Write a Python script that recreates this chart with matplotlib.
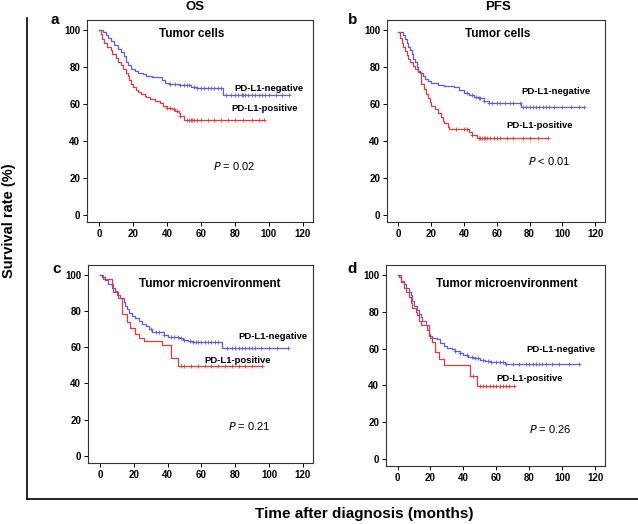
import numpy as np
import matplotlib
matplotlib.use("Agg")
import matplotlib.pyplot as plt
from matplotlib.lines import Line2D

plt.rcParams["font.family"] = ["Liberation Sans", "DejaVu Sans"]

# ---- data (months, survival %) ----
# panel a: OS, tumor cells
a_neg_t = [0, 2.5, 4, 5.5, 7, 9, 11, 13, 15, 16, 17, 19, 21, 23, 26, 28, 31, 37, 39, 41, 47, 54, 58, 73]
a_neg_s = [100, 99, 97.5, 96, 94, 92, 90, 88, 86, 83, 81, 79, 78, 77, 76, 75, 74.5, 73, 71.5, 71, 70, 69.2, 68.5, 65]
a_neg_end = 112
a_neg_cens = [42, 45, 48, 50, 52, 53, 56, 58, 60, 62, 64, 66, 68, 70, 72, 75, 78, 80, 82, 84, 85, 86,
              88, 90, 92, 94, 96, 98, 100, 104, 108, 112]
a_pos_t = [0, 1, 2, 3, 5, 7, 8, 10, 11, 13, 14, 16, 17, 18, 19, 20, 22, 23, 25, 27, 28, 30, 33, 36,
           38, 40, 43, 45, 47, 48, 50]
a_pos_s = [100, 98, 95, 93, 91, 89, 87, 85, 83, 81, 79, 77, 75, 73, 71, 69, 67.5, 66.5, 65.5, 64.5, 63.5, 62.5,
           61.5, 60.5, 59, 58, 57, 56, 55, 53.5, 51.5]
a_pos_end = 97
a_pos_cens = [40, 42, 44, 46, 48, 52, 53, 54, 55, 56, 58, 60, 64, 68, 72, 76, 80, 85, 90, 94, 97]

# panel b: PFS, tumor cells
b_neg_t = [0, 3, 4, 5, 6, 7, 8, 9, 10, 11, 12, 13, 15, 16, 18, 20, 24, 28, 34, 37, 40, 43, 46, 49,
           52, 55, 75]
b_neg_s = [98.9, 97.5, 95, 93, 91, 89, 87, 84.5, 82.5, 80, 78, 77, 75, 73.5, 72.5, 71.5, 70.5, 69.7,
           69, 67.5, 65.8, 64.8, 64, 63, 61.8, 60.3, 58.5]
b_neg_end = 113
b_neg_cens = [42, 45, 47, 49, 50, 52, 55, 57, 60, 62, 65, 68, 70, 74, 76, 78, 80, 82, 84, 86, 88, 90,
              92, 95, 100, 105, 110, 113]
b_pos_t = [0, 1, 2, 3, 4, 5, 6, 7, 9, 10, 12, 13.5, 14, 15.5, 17, 18, 19, 20, 22, 24, 26, 27, 28, 30,
           31, 43, 45, 48]
b_pos_s = [98.9, 96, 93, 91, 88.5, 86.5, 84.5, 82.5, 80.5, 79, 77.5, 74, 71, 68, 65.5, 63, 61, 59, 57,
           55, 53, 51, 49.5, 47.5, 46.5, 45, 43, 41.5]
b_pos_end = 91
b_pos_cens = [35, 40, 42, 45, 49, 50, 51, 52, 53, 54, 56, 58, 60, 62, 66, 70, 76, 80, 85, 91]

# panel c: OS, tumor microenvironment
c_neg_t = [0, 1, 3, 5, 7, 9, 10, 12, 14, 15, 16, 17, 19, 21, 23, 25, 27, 29, 31, 38, 40, 47, 49, 52,
           55, 72]
c_neg_s = [100, 99, 97, 95, 93, 91, 89, 87, 85, 83, 81, 79, 77.5, 76, 74.5, 73, 71.5, 70, 68.5, 67,
           65.5, 65, 64, 63.5, 62.8, 59.5]
c_neg_end = 111
c_neg_cens = [30, 33, 35, 38, 42, 44, 46, 48, 50, 53, 55, 57, 58, 60, 62, 64, 66, 68, 70, 75, 78, 80,
              82, 84, 86, 88, 90, 92, 95, 100, 105, 111]
c_pos_t = [0, 2, 7, 8, 11, 13, 16, 18, 21, 23, 26, 37, 42, 46]
c_pos_s = [100, 97.5, 95, 90.5, 87.5, 78.5, 74, 70.5, 67.5, 65, 63.5, 61, 54, 49.5]
c_pos_end = 96
c_pos_cens = [48, 50, 54, 58, 62, 66, 70, 74, 78, 82, 86, 90, 96]

# panel d: PFS, tumor microenvironment
d_neg_t = [0, 1, 2, 4, 5, 7, 8, 9, 10, 12, 13, 14, 15, 17, 18, 19, 20, 24, 26, 28, 30, 33, 35, 38,
           40, 43, 46, 50, 53, 57, 65]
d_neg_s = [100, 99, 97, 95, 93, 91, 89, 86, 83, 81, 79, 77, 75, 73, 70, 68, 66, 65, 63, 61.5, 60.5,
           59.5, 58.5, 57.5, 56.5, 55.5, 55, 54, 53, 52.8, 51.4]
d_neg_end = 110
d_neg_cens = [35, 38, 42, 45, 47, 49, 52, 55, 57, 60, 62, 64, 66, 70, 74, 78, 80, 82, 84, 86, 88, 90,
              94, 98, 104, 110]
d_pos_t = [0, 2, 4, 5, 7, 8, 9, 11, 12, 13, 14, 19, 21, 23, 25, 28, 44, 48]
d_pos_s = [100, 96, 93, 91, 88, 85, 82, 80, 78, 75, 73, 67, 63.5, 58, 54.5, 51, 45, 39.5]
d_pos_end = 71
d_pos_cens = [46, 50, 52, 54, 56, 58, 60, 62, 64, 66, 68, 71]

col_titles = ["OS", "PFS"]
panel_letters = ["a", "b", "c", "d"]
panel_titles = ["Tumor cells", "Tumor cells", "Tumor microenvironment", "Tumor microenvironment"]
p_texts = ["$P$ = 0.02", "$P$ < 0.01", "$P$ = 0.21", "$P$ = 0.26"]
xticks = [0, 20, 40, 60, 80, 100, 120]
yticks = [0, 20, 40, 60, 80, 100]

BLUE = "#5a5af0"
RED = "#e23a3a"

W, H = 638, 524
fig = plt.figure(figsize=(W / 100, H / 100), dpi=100)


def box(l, t, r, b):
    return [l / W, 1 - b / H, (r - l) / W, (b - t) / H]


axes_px = [(87, 20, 313, 222), (387, 20, 605, 222), (88, 265, 313, 463), (386, 265, 605, 466)]


def km(ax, t, s, end, cens, color):
    tt = list(t) + [end]
    ss = list(s) + [s[-1]]
    ax.step(tt, ss, where="post", color=color, lw=0.9)
    idx = np.searchsorted(t, cens, side="right") - 1
    cy = np.array(s)[idx]
    ax.plot(cens, cy, ls="none", marker="+", ms=2.5, mew=0.6, color=color)


curves = [
    (a_neg_t, a_neg_s, a_neg_end, a_neg_cens, a_pos_t, a_pos_s, a_pos_end, a_pos_cens),
    (b_neg_t, b_neg_s, b_neg_end, b_neg_cens, b_pos_t, b_pos_s, b_pos_end, b_pos_cens),
    (c_neg_t, c_neg_s, c_neg_end, c_neg_cens, c_pos_t, c_pos_s, c_pos_end, c_pos_cens),
    (d_neg_t, d_neg_s, d_neg_end, d_neg_cens, d_pos_t, d_pos_s, d_pos_end, d_pos_cens),
]

# label positions (data coords)
title_xy = [(54.5, 98), (60.5, 98), (65, 95), (66.5, 95)]
neg_xy = [(80, 68.5), (75, 66.5), (82, 66), (78, 59.6)]
pos_xy = [(78, 57.4), (66, 48.4), (62, 52.7), (60, 43.5)]
p_xy = [(67, 26.6), (79, 28.8), (76, 16.3), (80, 16.3)]

for i, (l, t, r, b) in enumerate(axes_px):
    ax = fig.add_axes(box(l, t, r, b))
    nt, ns, ne, nc, pt, ps, pe, pc = curves[i]
    km(ax, nt, ns, ne, nc, BLUE)
    km(ax, pt, ps, pe, pc, RED)
    ax.set_xlim(-7, 126)
    ax.set_ylim(-4, 105.5)
    ax.set_xticks(xticks)
    ax.set_yticks(yticks)
    ax.tick_params(labelsize=7, length=3, width=0.7, pad=2)
    for lab in ax.get_xticklabels() + ax.get_yticklabels():
        lab.set_fontweight("bold")
    for sp in ax.spines.values():
        sp.set_linewidth(0.8)
        sp.set_color("#333333")
    ax.text(*title_xy[i], panel_titles[i], ha="center", va="center", fontsize=8.5, fontweight="bold")
    ax.text(*neg_xy[i], "PD-L1-negative", ha="left", va="center", fontsize=6.8, fontweight="bold",
            clip_on=False)
    ax.text(*pos_xy[i], "PD-L1-positive", ha="left", va="center", fontsize=6.8, fontweight="bold")
    ax.text(*p_xy[i], p_texts[i], ha="left", va="center", fontsize=8)

# column titles and panel letters
fig.text(195 / W, 1 - 7 / H, col_titles[0], ha="center", va="center", fontsize=9.5, fontweight="bold")
fig.text(498 / W, 1 - 7 / H, col_titles[1], ha="center", va="center", fontsize=9.5, fontweight="bold")
for (x, y), s in zip([(55, 20), (353, 20), (57, 269), (352, 269)], panel_letters):
    fig.text(x / W, 1 - y / H, s, ha="center", va="center", fontsize=11, fontweight="bold")

# L-shaped frame and shared labels
fig.add_artist(Line2D([27 / W, 27 / W], [1 - 18 / H, 1 - 499 / H], color="black", lw=1.2))
fig.add_artist(Line2D([27 / W, 1.0], [1 - 499 / H, 1 - 499 / H], color="black", lw=1.2))
fig.text(9 / W, 1 - 221 / H, "Survival rate (%)", rotation=90, ha="center", va="center",
         fontsize=10.5, fontweight="bold")
fig.text(364 / W, 1 - 514 / H, "Time after diagnosis (months)", ha="center", va="center",
         fontsize=11, fontweight="bold")

fig.savefig("out.png", dpi=100)
